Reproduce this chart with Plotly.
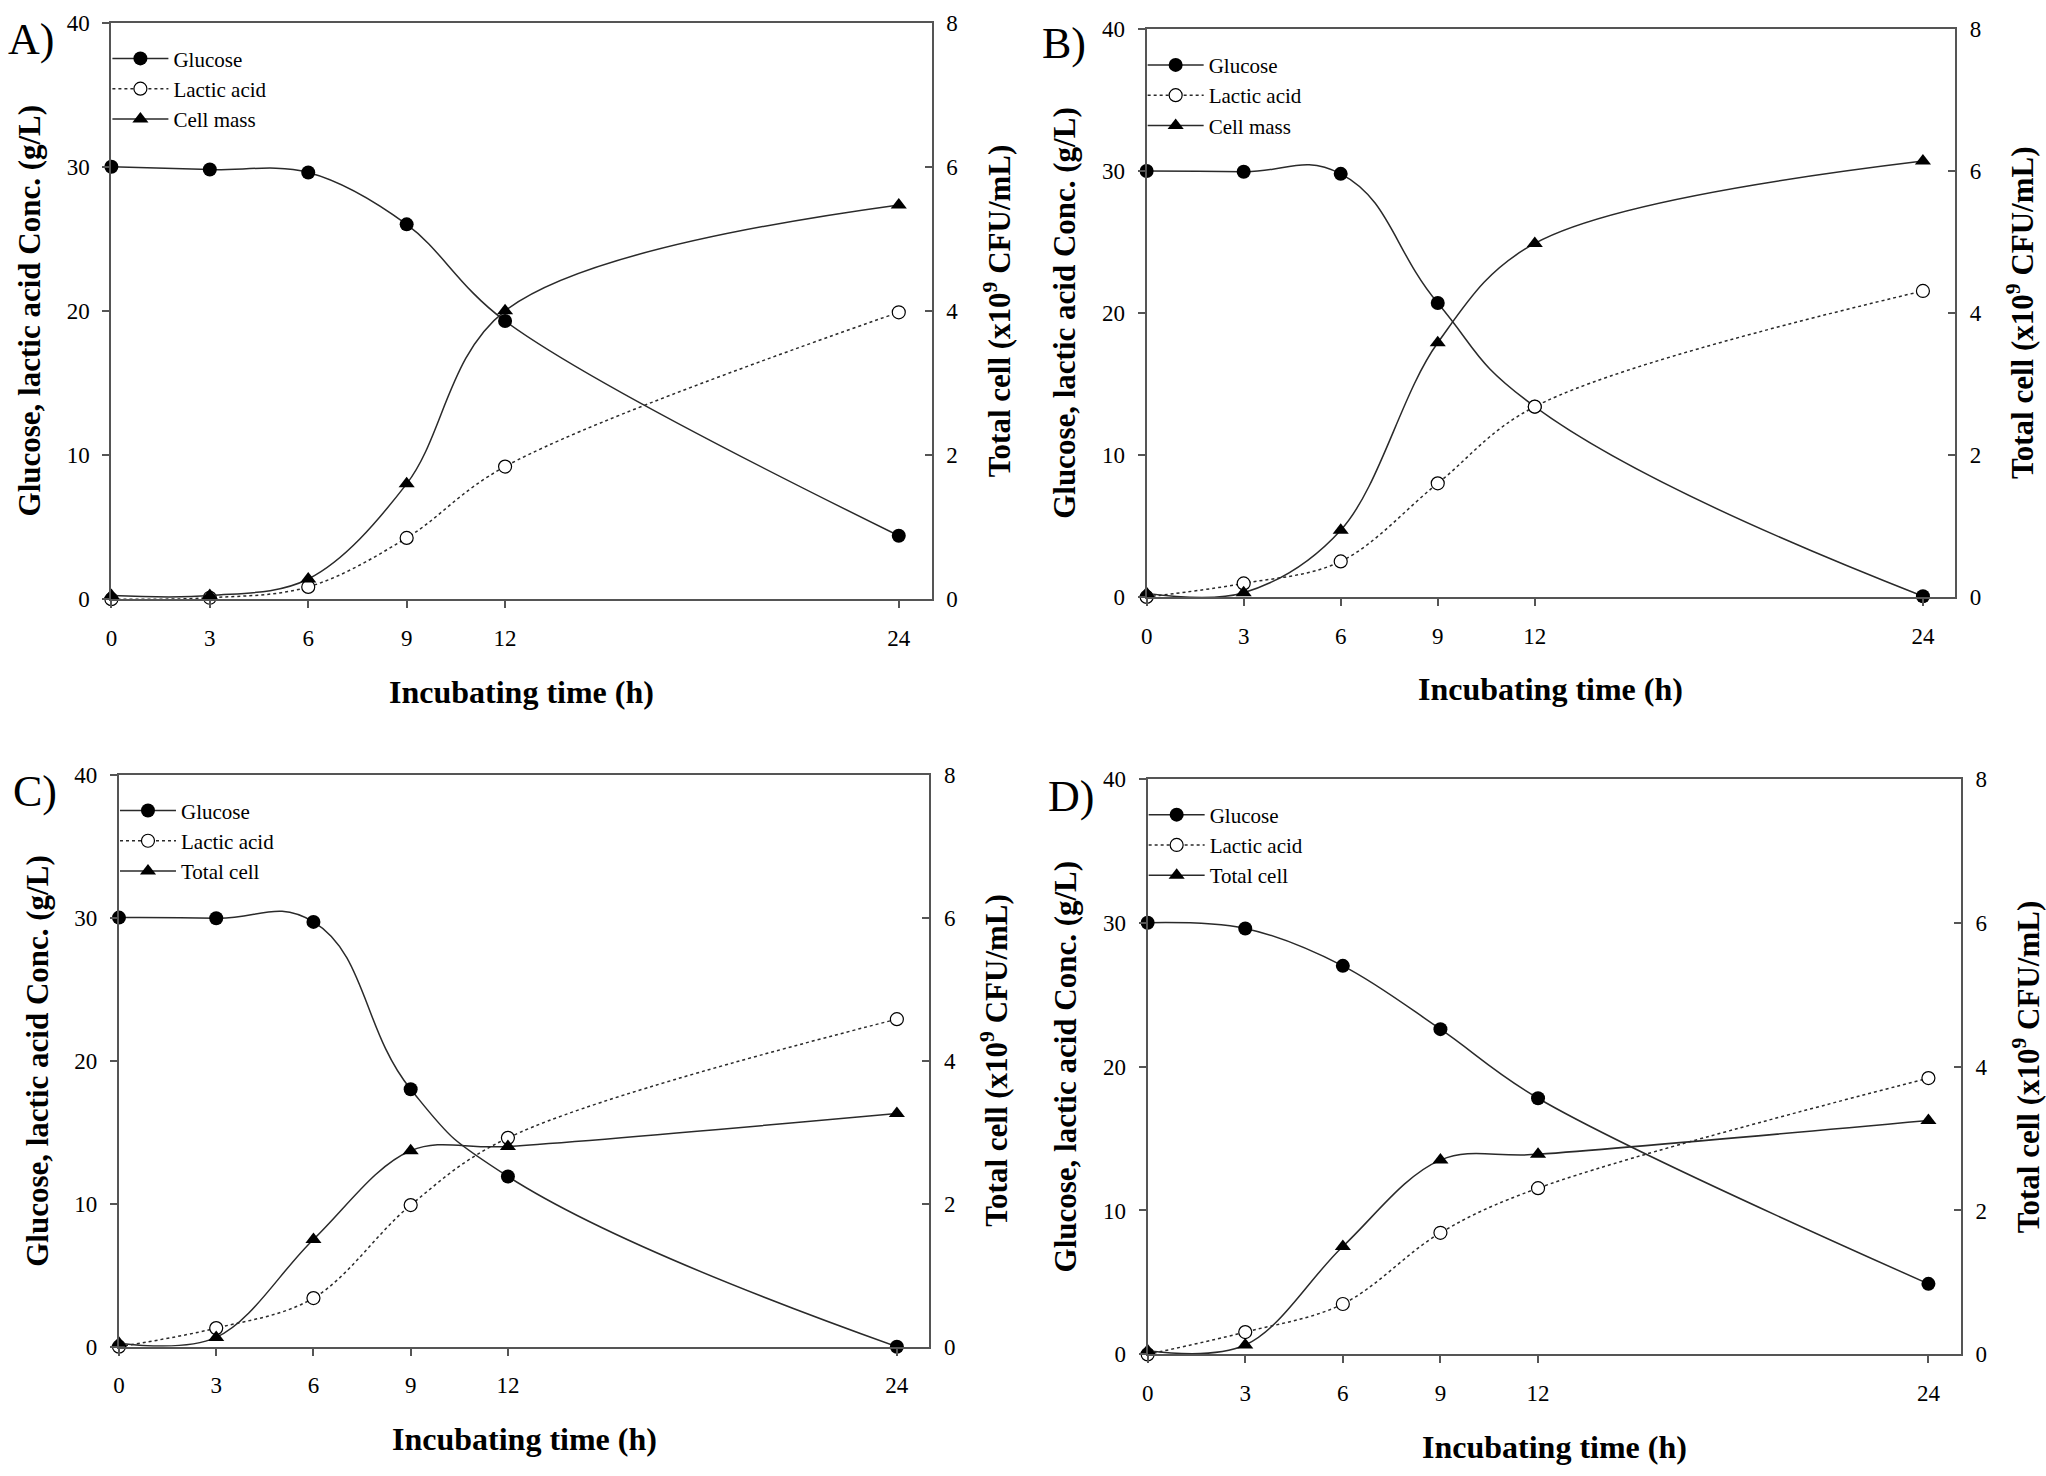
import plotly.graph_objects as go

# ---------------- data ----------------
hours = [0, 3, 6, 9, 12, 24]
x_ticks = [0, 3, 6, 9, 12, 24]
left_ticks = [0, 10, 20, 30, 40]
right_ticks = [0, 2, 4, 6, 8]

panel_labels = ["A)", "B)", "C)", "D)"]
cell_names = ["Cell mass", "Cell mass", "Total cell", "Total cell"]

glucose_A = [30.0, 29.8, 29.6, 26.0, 19.3, 4.4]
lactic_A = [0.0, 0.1, 0.85, 4.25, 9.2, 19.9]
cell_A = [0.05, 0.05, 0.28, 1.6, 4.0, 5.47]

glucose_B = [30.0, 29.95, 29.8, 20.7, 13.4, 0.05]
lactic_B = [0.0, 0.95, 2.5, 8.0, 13.4, 21.55]
cell_B = [0.05, 0.06, 0.94, 3.58, 4.98, 6.14]

glucose_C = [30.0, 29.95, 29.7, 18.0, 11.9, 0.0]
lactic_C = [0.0, 1.3, 3.4, 9.9, 14.6, 22.9]
cell_C = [0.05, 0.13, 1.5, 2.74, 2.8, 3.26]

glucose_D = [30.0, 29.6, 27.0, 22.6, 17.8, 4.9]
lactic_D = [0.0, 1.55, 3.5, 8.45, 11.55, 19.2]
cell_D = [0.05, 0.13, 1.5, 2.7, 2.78, 3.25]

glucose_all = [glucose_A, glucose_B, glucose_C, glucose_D]
lactic_all = [lactic_A, lactic_B, lactic_C, lactic_D]
cell_all = [cell_A, cell_B, cell_C, cell_D]

x_title = "Incubating time (h)"
left_title = "Glucose, lactic acid Conc. (g/L)"
right_title = "Total cell (x10<sup>9</sup> CFU/mL)"

# ---------------- layout geometry (pixels) ----------------
W, H = 2046, 1476
# left, right, top, bottom of each plot frame
frames = [
    (105.7, 928.3, 10.7, 597.3),
    (1144.0, 1955.0, 17.3, 595.0),
    (113.3, 926.0, 775.7, 1357.7),
    (1145.0, 1960.7, 780.0, 1365.5),
]
label_pos = [(25, 28), (1061, 32), (29, 793), (1068, 798)]
glucose_smoothing = [1.0, 1.3, 1.3, 1.0]

SERIF = "Liberation Serif, Times New Roman, serif"
LINE_COL = "#2a2a2a"
AX_COL = "#555555"

fig = go.Figure()
layout = dict(
    width=W, height=H,
    margin=dict(l=0, r=0, t=0, b=0),
    paper_bgcolor="white", plot_bgcolor="white",
    font=dict(family=SERIF, size=21, color="black"),
    showlegend=True,
)
annotations = []

for i in range(4):
    l, r, t, b = frames[i]
    xs = "" if i == 0 else str(i + 1)
    yl = "" if i == 0 else str(2 * i + 1)
    yr = str(2 * i + 2)
    xname = "x" + xs
    ylname = "y" + yl
    yrname = "y" + yr
    leg = "legend" if i == 0 else "legend" + str(i + 1)

    fig.add_trace(go.Scatter(
        x=hours, y=glucose_all[i], name="Glucose", mode="lines+markers",
        line=dict(color=LINE_COL, width=1.5, shape="spline", smoothing=glucose_smoothing[i]),
        marker=dict(symbol="circle", size=14, color="black"),
        xaxis=xname, yaxis=ylname, legend=leg, cliponaxis=False))
    fig.add_trace(go.Scatter(
        x=hours, y=lactic_all[i], name="Lactic acid", mode="lines+markers",
        line=dict(color=LINE_COL, width=1.5, dash="dot", shape="spline", smoothing=1.0),
        marker=dict(symbol="circle", size=13, color="white", line=dict(color="black", width=1.2)),
        xaxis=xname, yaxis=ylname, legend=leg, cliponaxis=False))
    fig.add_trace(go.Scatter(
        x=hours, y=cell_all[i], name=cell_names[i], mode="lines+markers",
        line=dict(color=LINE_COL, width=1.5, shape="spline", smoothing=1.0),
        marker=dict(symbol="triangle-up", size=14, color="black"),
        xaxis=xname, yaxis=yrname, legend=leg, cliponaxis=False))

    dom_x = [l / W, r / W]
    dom_y = [1 - b / H, 1 - t / H]

    layout["xaxis" + xs] = dict(
        domain=dom_x, anchor=ylname, range=[0, 25], tickvals=x_ticks,
        showgrid=False, zeroline=False, showline=True, linecolor=AX_COL, linewidth=2,
        mirror=True, ticks="outside", ticklen=7, tickwidth=1.5, tickcolor=AX_COL,
        ticklabelstandoff=10, tickfont=dict(family=SERIF, size=23, color="black"))
    layout["yaxis" + yl] = dict(
        domain=dom_y, anchor=xname, range=[0, 40], tickvals=left_ticks,
        showgrid=False, zeroline=False, showline=True, linecolor=AX_COL, linewidth=2,
        ticks="outside", ticklen=7, tickwidth=1.5, tickcolor=AX_COL,
        ticklabelstandoff=8, tickfont=dict(family=SERIF, size=23, color="black"))
    layout["yaxis" + yr] = dict(
        domain=dom_y, anchor=xname, overlaying=ylname, side="right",
        range=[0, 8], tickvals=right_ticks,
        showgrid=False, zeroline=False, showline=True, linecolor=AX_COL, linewidth=2,
        ticks="inside", ticklen=7, tickwidth=1.5, tickcolor=AX_COL,
        ticklabelstandoff=8, tickfont=dict(family=SERIF, size=23, color="black"))

    layout[leg] = dict(
        x=(l - 4) / W, y=1 - (t + 16) / H, xanchor="left", yanchor="top",
        bgcolor="rgba(0,0,0,0)", borderwidth=0, tracegroupgap=0,
        itemwidth=56, font=dict(family=SERIF, size=21, color="black"))

    cy = 1 - ((t + b) / 2) / H
    cx = ((l + r) / 2) / W
    annotations.append(dict(
        text=left_title, x=(l - 82) / W, y=cy, xref="paper", yref="paper",
        xanchor="center", yanchor="middle", textangle=-90, showarrow=False,
        font=dict(family=SERIF, size=31, color="black", weight="bold")))
    annotations.append(dict(
        text=right_title, x=(r + 66) / W, y=cy, xref="paper", yref="paper",
        xanchor="center", yanchor="middle", textangle=-90, showarrow=False,
        font=dict(family=SERIF, size=31, color="black", weight="bold")))
    annotations.append(dict(
        text=x_title, x=cx, y=1 - (b + 94) / H, xref="paper", yref="paper",
        xanchor="center", yanchor="middle", showarrow=False,
        font=dict(family=SERIF, size=32, color="black", weight="bold")))
    lx, ly = label_pos[i]
    annotations.append(dict(
        text=panel_labels[i], x=lx / W, y=1 - ly / H, xref="paper", yref="paper",
        xanchor="center", yanchor="middle", showarrow=False,
        font=dict(family=SERIF, size=44, color="black")))

layout["annotations"] = annotations
fig.update_layout(**layout)
fig.write_html("out.html")
